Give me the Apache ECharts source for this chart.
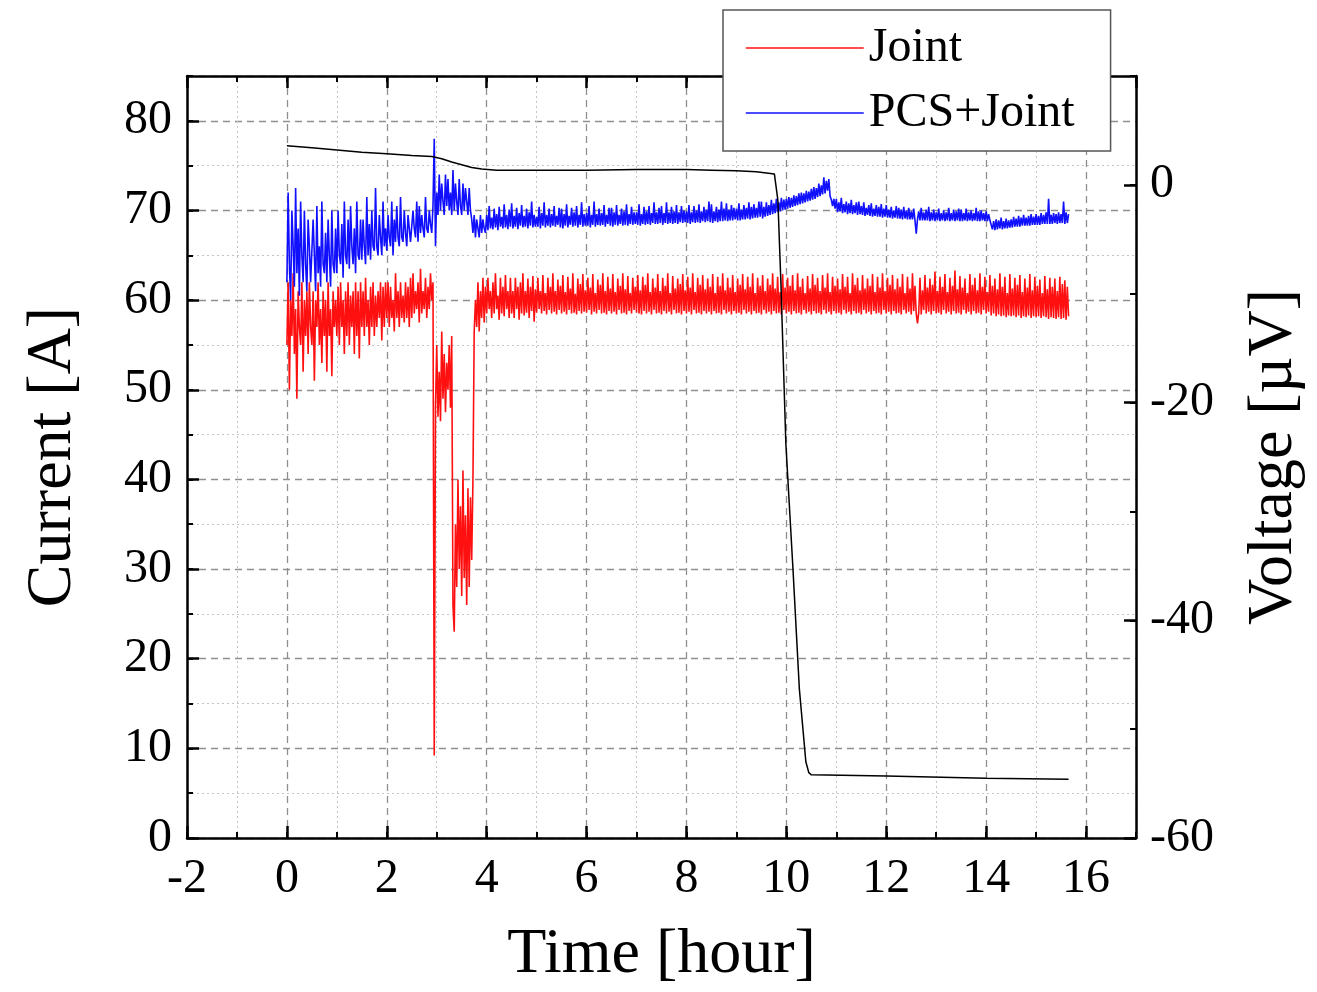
<!DOCTYPE html>
<html><head><meta charset="utf-8">
<script src="https://cdn.jsdelivr.net/npm/echarts@6/dist/echarts.min.js"></script>
<style>html,body{margin:0;padding:0;background:#fff}#c{width:1317px;height:992px}</style>
</head><body><div id="c"></div>
<script>
// ---- sampling of the two current traces (hours) ----
// part A: 0 .. 3.975 h every 0.025 h ; part B: 4.0 .. 15.65 h every 0.025 h
const A_START = 0, A_STEP = 0.025, B_START = 4, B_STEP = 0.025;

// Joint current [A]
const jointA = [
55,62,50,60,56,63,54,59,49,61,57,55,62,52,60,56,61,54,62,57,
55,61,51,60,57,62,55,59,53,61,56,60,52,62,56,59,51.5,61,57,60,
56,61.5,55,62,57,60,54,61,56,62,55,60.5,57,61,54,62,56,61,53.5,62,
57,61,56,62.5,57,60,55,61.5,57,62,56,60.5,57,61,58,62,55.5,61.5,57,62,
58,62,57,61.5,58,60,56.5,63,58,61,57,62,58,60.5,57.5,62,58,61.5,57,62.5,
58,63,58.5,61,59,62,57.5,63.5,58.5,61,59,62.5,58,61.5,59,63,60,62,9.2,48,
55,47,52,46.5,56.5,49,54,47.5,53,50,55,48,56,26,23,35,28,40,30,37,
27,41,29,36,26,39,28,38,31,40,56.5,60,57,62,56.5,61,58,62.5,57.5,61.5
];
const jointB = [
58.5,62.5,59,61,58,62,58.5,63,59,60.5,57.8,62.5,58.5,61.5,58.2,62.8,59,61,58,62.5,
58.5,61,58,62.5,59,61.5,57.8,62,58.5,63,58.3,61,58.6,62.4,58,61.5,58.8,62.7,57.6,61.2,
58.6,62.5,59,61,58.5,62.8,58.8,60.8,58.4,62.5,58.9,61.5,58.5,63,58.7,61,58.4,62.3,58.9,61.6,
58.5,62.8,58.7,60.9,58.4,62.6,58.9,61.3,58.5,63,58.6,60.7,58.4,62.4,58.8,61.8,58.5,62.9,58.7,61.1,
58.6,62.5,58.9,61.4,58.4,62.9,58.7,60.8,58.5,62.3,58.9,61.7,58.5,63,58.6,61,58.4,62.6,58.8,61.3,
58.5,62.9,58.7,60.9,58.4,62.4,58.9,61.6,58.5,63,58.6,61.2,58.4,62.7,58.8,60.8,58.5,62.5,58.9,61.5,
58.6,62.8,58.5,61.1,58.4,62.6,58.8,61.7,58.5,63,58.7,60.9,58.4,62.4,58.9,61.4,58.5,62.9,58.6,61,
58.4,62.5,58.8,61.6,58.5,63,58.7,60.8,58.4,62.7,58.9,61.3,58.5,62.4,58.6,61.8,58.4,62.9,58.8,61.1,
58.5,62.6,58.7,61.4,58.4,63,58.9,60.9,58.5,62.5,58.6,61.7,58.4,62.8,58.8,61.2,58.5,62.4,58.7,61.5,
58.4,62.9,58.8,60.8,58.5,62.6,58.6,61.6,58.4,63,58.9,61.1,58.5,62.5,58.7,61.4,58.4,62.8,58.8,60.9,
58.5,62.4,58.6,61.7,58.4,62.9,58.9,61.2,58.5,62.6,58.7,61.5,58.4,63,58.8,60.8,58.5,62.5,58.6,61.6,
58.4,62.8,58.9,61,58.5,62.4,58.7,61.7,58.4,63,58.8,61.3,58.5,62.6,58.6,60.9,58.4,62.9,58.9,61.4,
58.5,62.5,58.7,61.6,58.4,62.8,58.8,61.1,58.5,63,58.6,61.5,58.4,62.4,58.9,60.8,58.5,62.7,58.7,61.3,
58.4,62.9,58.8,61.7,58.5,62.5,58.6,61,58.4,62.8,58.9,61.4,58.5,63,58.7,60.9,58.4,62.6,58.8,61.6,
58.5,62.4,58.6,61.2,58.4,62.9,58.9,61.5,58.5,62.6,58.7,60.8,58.4,63,58.8,61.7,58.5,62.5,58.6,61.1,
58.4,62.8,58.9,61.3,58.5,62.4,58.7,61.6,58.4,62.9,58.8,60.9,58.5,62.6,58.6,61.4,58.4,63,58.9,61,
58.5,62.5,58.7,61.7,58.4,62.8,58.8,61.2,58.5,62.4,58.6,61.5,58.4,62.9,58.9,60.8,58.5,62.6,58.7,61.3,
58.4,63,58.8,61.6,58.5,57.4,58.6,62.5,58.4,61.1,58.9,62.8,58.5,61.4,58.7,62.4,58.4,61.7,58.8,63.2,
58.5,61,58.6,62.6,58.4,61.5,58.9,62.9,58.5,60.9,58.7,62.5,58.4,61.6,58.8,63.3,58.5,61.2,58.6,62.7,
58.4,61.4,58.9,62.4,58.5,60.8,58.7,62.9,58.4,61.7,58.8,62.5,58.5,61.1,58.6,63,58.4,61.5,58.9,62.6,
58.5,60.9,58.7,62.8,58.3,61.6,58.5,62.4,58.2,61.2,58.4,63,58.2,61.5,58.3,62.6,58.1,60.8,58.3,62.9,
58.2,61.3,58.3,62.5,58.1,61.7,58.3,62.8,58,60.9,58.2,62.4,58.1,61.4,58.3,62.9,58,61.1,58.2,62.6,
58.1,61.6,58.2,62.3,58,60.8,58.2,62.7,58.1,61.2,57.9,62.5,58.1,61.5,58,62.4,57.9,61,58.1,62.6,
57.9,61.8,58,62.2,57.8,61.5,58.2
];

// PCS+Joint current [A]
const pcsA = [
62,72,64,60,70,66,61.5,72.5,63,68,60.5,71,65,62,70,64,61,69,66,62,
62,69,65,61,70.5,63,66,61.5,71,64,63,67.5,62,69,65,61.5,70,64,63,68,
63,70,65,64,68.5,62.5,71,65,64,69,63.5,70.5,66,64,68,63,71,65,64.5,69,
64.5,69,66,64,71.5,65,68.5,64.5,70,66,65.5,72.5,66,65,69.5,67,65,71,66,68,
65.5,69.5,67,66,71,65,69,66.5,70.5,67,66,71.5,67,66.5,70,67.5,66,69.5,68,66.5,
66.5,70,68,67,71,66.5,70.5,67.5,69.5,68,67,71.5,68,67.5,70,68.5,67.5,70.5,78,66,
72,69.5,74,70,73,71,69.5,74,70.5,73.5,70,72,69.5,74.5,70,73,71,69.5,73.5,70.5,
69.5,73,70,72.5,71,69.5,72.5,70,69,67.5,69.5,67,69,68,67,69.5,67.5,69,68,67.5
];
const pcsB = [
69.5,67.8,70.5,68,69.2,67.9,70.2,68.1,69.6,67.8,70.4,68.2,69.3,68,70.7,68.1,69.5,67.9,70.1,68.2,
70.8,68,69.4,68.2,70.3,67.9,69.7,68.3,70.6,68.1,69.4,68.2,70.2,68,69.8,68.3,71,68.1,69.5,68.2,
69.3,68.2,70.4,68,69.7,68.3,70.9,68.1,69.5,68.3,70.2,68.1,69.6,68.3,70.5,68.2,69.4,68.4,70.3,68.1,
70.2,68,69.6,68.3,70.7,68.1,69.4,68.4,70.3,68.2,69.8,68.3,70.5,68.1,69.5,68.4,70.9,68.2,69.6,68.3,
69.7,68.3,70.5,68.1,69.5,68.4,71,68.2,69.6,68.4,70.2,68.3,69.7,68.4,70.6,68.2,69.5,68.5,70.3,68.3,
70.3,68.2,69.8,68.4,70.6,68.3,69.5,68.5,70.2,68.3,69.9,68.4,70.7,68.3,69.6,68.5,70.4,68.4,69.8,68.5,
69.8,68.4,70.7,68.3,69.6,68.5,70.4,68.4,69.9,68.5,70.5,68.4,69.7,68.6,70.9,68.5,69.8,68.5,70.3,68.6,
70.5,68.4,69.7,68.6,70.9,68.5,69.8,68.6,70.4,68.5,69.9,68.6,70.6,68.5,69.8,68.7,70.5,68.6,70,68.7,
69.9,68.6,70.6,68.5,69.8,68.7,70.5,68.6,70,68.7,70.7,68.6,69.9,68.8,70.4,68.7,70.1,68.8,71,68.7,
70.7,68.6,69.9,68.8,70.4,68.7,70.1,68.8,71,68.8,70.2,68.9,70.8,68.8,70.1,68.9,70.6,68.9,70.3,69,
70.2,68.9,70.8,68.9,70.1,69,70.6,69,70.3,69.1,70.9,69,70.4,69.1,70.7,69.2,70.3,69.2,71,69.3,
71,69.1,70.4,69.3,70.9,69.4,70.6,69.5,71.2,69.6,70.8,69.7,71.3,69.8,70.9,69.9,71.4,70,71.2,70.1,
71.3,70.2,71.5,70.3,71.4,70.4,71.7,70.5,71.6,70.6,71.9,70.7,72,70.8,71.9,70.9,72.2,71,72.1,71.1,
72.4,71.2,72.6,71.3,72.5,71.5,73,71.6,72.8,71.8,73.7,71.9,73.3,72.2,73.5,71.6,71.2,70.5,71.3,70.2,
71.3,69.8,70.9,69.9,71.4,69.7,70.7,69.8,71,69.6,70.8,69.7,71.2,69.6,70.6,69.7,70.9,69.5,71,69.6,
70.5,69.5,70.9,69.4,70.3,69.5,70.6,69.4,70.8,69.3,70.2,69.4,70.6,69.3,70.4,69.3,70.7,69.2,70.2,69.3,
70.6,69.2,70.1,69.2,70.4,69.1,70,69.2,70.5,69.1,70.3,69.1,70.1,69,70.4,69.1,70,69,70.3,69,
69.9,69,70.2,68.9,67.4,69,69.9,68.9,70.3,68.9,69.8,68.9,70.1,68.9,70.4,68.8,69.8,68.9,70.1,68.8,
69.8,68.9,70.2,68.8,69.7,68.9,70,68.8,69.8,68.9,70.3,68.8,69.7,68.9,70.1,68.8,69.9,68.9,70.2,68.8,
70.1,68.8,69.7,68.9,70.2,68.8,69.8,68.9,70,68.8,69.7,68.9,70.3,68.8,69.9,68.8,70,68.9,69.7,68.8,
69.9,68.8,69.6,68.9,68.8,67.9,68.8,67.8,69,67.9,68.9,68,69.2,67.9,68.8,68,69.1,68,68.9,68.1,
69,68.1,69.3,68.2,69.1,68.2,69.4,68.2,69.2,68.3,69.5,68.3,69.2,68.3,69.4,68.3,69.6,68.4,69.3,68.4,
69.6,68.4,69.4,68.4,69.7,68.5,69.5,68.5,69.8,68.5,71.3,68.5,69.5,68.5,69.7,68.6,69.6,68.5,69.8,68.6,
69.6,68.6,71,68.5,69.8,68.6,69.6
];

// Voltage [µV] (right axis)
const voltT = [0,0.5,1,1.5,2,2.5,2.9,3.1,3.3,3.5,3.7,3.9,4.2,5,6,7,8,8.5,9,9.4,9.76,9.83,9.89,9.99,10.13,10.26,10.39,10.45,10.5,12,14,15.65];
const voltV = [3.6,3.4,3.2,3.0,2.85,2.7,2.6,2.4,2.1,1.85,1.6,1.45,1.35,1.35,1.35,1.4,1.4,1.35,1.3,1.2,1.0,-1.4,-8.9,-23.8,-35.1,-46.3,-53,-54,-54.2,-54.3,-54.5,-54.6];

// axes
const xRange = [-2, 17], xMajor = 2, xMinor = 1;
const iRange = [0, 85], iMajor = 10, iMinor = 5;
const vRange = [-60, 10], vMajor = 20, vMinor = 10;
const seriesNames = ['Joint', 'PCS+Joint'];
const axisTitles = {x: 'Time [hour]', left: 'Current [A]', right: 'Voltage [µV]'};

const FONT = '"Liberation Serif", "Times New Roman", serif';
const round = v => Math.round(v * 1000) / 1000;
const build = (a, b) => a.map((v, i) => [round(A_START + i * A_STEP), v])
  .concat(b.map((v, i) => [round(B_START + i * B_STEP), v]));
const jointData = build(jointA, jointB);
const pcsData = build(pcsA, pcsB);
const voltData = voltT.map((t, i) => [t, voltV[i]]);

const black = {show: true, onZero: false, lineStyle: {color: '#000', width: 2.5}};
const noLine = {show: false, onZero: false};
const majTick = {show: true, inside: true, length: 12, lineStyle: {color: '#000', width: 2.5}};
const minTick = {show: true, inside: true, length: 6, lineStyle: {color: '#000', width: 2}};
const majGrid = {show: true, lineStyle: {color: '#8f8f8f', type: [7, 5], width: 1.3}};
const minGrid = {show: true, lineStyle: {color: ['rgba(0,0,0,0)', '#c4c4c4'], type: [2, 3], width: 1}};
const lbl = {color: '#000', fontFamily: FONT, fontSize: 48};
const title = {color: '#000', fontFamily: FONT, fontSize: 64};

const chart = echarts.init(document.getElementById('c'), null, {renderer: 'canvas'});
chart.setOption({
  animation: false,
  backgroundColor: '#fff',
  grid: {left: 187, right: 181, top: 76, bottom: 151, containLabel: false},
  legend: {
    data: seriesNames, orient: 'vertical', left: 723, top: 10,
    itemWidth: 118, itemHeight: 14, itemGap: 13,
    padding: [12, 36, 12, 22],
    backgroundColor: '#fff', borderColor: '#555', borderWidth: 1.5,
    itemStyle: {opacity: 0},
    lineStyle: {width: 1.5, opacity: 1},
    textStyle: {color: '#000', fontFamily: FONT, fontSize: 48, lineHeight: 52},
    selectedMode: false
  },
  xAxis: [
    {type: 'value', position: 'bottom', min: xRange[0], max: xRange[1], interval: xMajor,
     axisLine: black, axisTick: majTick, splitLine: majGrid,
     axisLabel: Object.assign({margin: 17, showMaxLabel: false, formatter: v => (v === xRange[1] ? '' : String(v))}, lbl),
     name: axisTitles.x, nameLocation: 'middle', nameGap: 85, nameTextStyle: title},
    {type: 'value', position: 'bottom', min: xRange[0], max: xRange[1], interval: xMinor,
     axisLine: noLine, axisTick: minTick, splitLine: minGrid, axisLabel: {show: false}},
    {type: 'value', position: 'top', min: xRange[0], max: xRange[1], interval: xMajor,
     axisLine: black, axisTick: majTick, splitLine: {show: false}, axisLabel: {show: false}},
    {type: 'value', position: 'top', min: xRange[0], max: xRange[1], interval: xMinor,
     axisLine: noLine, axisTick: minTick, splitLine: {show: false}, axisLabel: {show: false}}
  ],
  yAxis: [
    {type: 'value', position: 'left', min: iRange[0], max: iRange[1], interval: iMajor,
     axisLine: black, axisTick: majTick, splitLine: majGrid,
     axisLabel: Object.assign({margin: 15, showMaxLabel: false, formatter: v => (v === iRange[1] ? '' : String(v))}, lbl),
     name: axisTitles.left, nameLocation: 'middle', nameRotate: 90, nameGap: 102, nameTextStyle: title},
    {type: 'value', position: 'left', min: iRange[0], max: iRange[1], interval: iMinor,
     axisLine: noLine, axisTick: minTick, splitLine: minGrid, axisLabel: {show: false}},
    {type: 'value', position: 'right', min: vRange[0], max: vRange[1], interval: vMajor,
     axisLine: black, axisTick: majTick, splitLine: {show: false},
     axisLabel: Object.assign({margin: 14, showMaxLabel: false, formatter: v => (v === vRange[1] ? '' : String(v))}, lbl),
     name: axisTitles.right, nameLocation: 'middle', nameRotate: 90, nameGap: 106, nameTextStyle: title},
    {type: 'value', position: 'right', min: vRange[0], max: vRange[1], interval: vMinor,
     axisLine: noLine, axisTick: minTick, splitLine: {show: false}, axisLabel: {show: false}}
  ],
  series: [
    {name: seriesNames[0], type: 'line', xAxisIndex: 0, yAxisIndex: 0, data: jointData,
     symbol: 'none', lineStyle: {color: '#ff1010', width: 1.6}, itemStyle: {color: '#ff1010'},
     emphasis: {disabled: true}, z: 3},
    {name: seriesNames[1], type: 'line', xAxisIndex: 0, yAxisIndex: 0, data: pcsData,
     symbol: 'none', lineStyle: {color: '#1010ff', width: 1.6}, itemStyle: {color: '#1010ff'},
     emphasis: {disabled: true}, z: 3},
    {name: 'Voltage', type: 'line', xAxisIndex: 0, yAxisIndex: 2, data: voltData,
     symbol: 'none', lineStyle: {color: '#000', width: 1.5}, itemStyle: {color: '#000'},
     emphasis: {disabled: true}, z: 4}
  ]
});
</script></body></html>
